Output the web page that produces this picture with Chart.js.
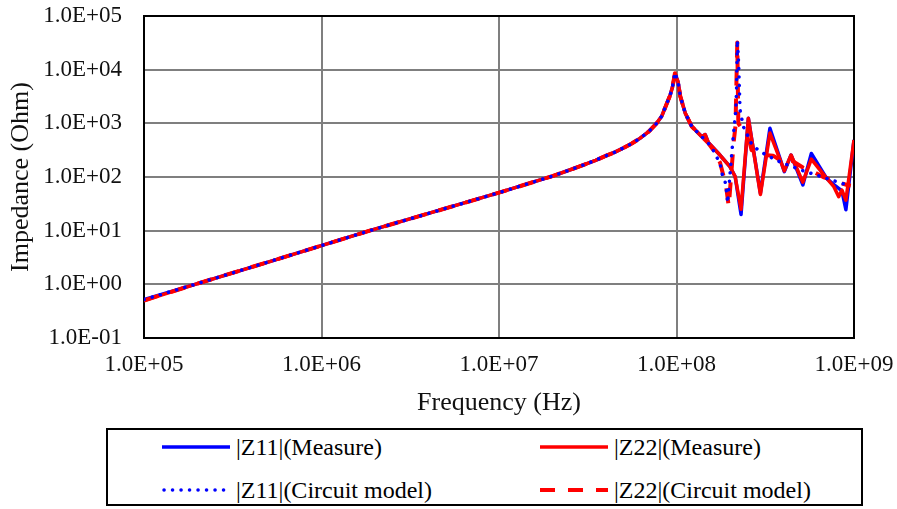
<!DOCTYPE html>
<html>
<head>
<meta charset="utf-8">
<title>Impedance</title>
<script src="https://cdn.jsdelivr.net/npm/chart.js@4.4.1/dist/chart.umd.min.js"></script>
<style>
  body { margin: 0; background: #fff; }
  #wrap { position: relative; width: 897px; height: 509px; }
  #chart { position: absolute; left: 0; top: 0; }
  #legend {
    position: absolute; left: 106px; top: 428px; width: 757px; height: 78px;
    box-sizing: border-box; border: 2px solid #000;
    font-family: 'Liberation Serif', 'Times New Roman', serif; font-size: 24px; color: #000;
  }
  .item { position: absolute; display: flex; align-items: center; height: 28px; white-space: nowrap; }
  .item svg { margin-right: 6px; }
</style>
</head>
<body>
<div id="wrap">
  <canvas id="chart" width="897" height="420"></canvas>
  <div id="legend"></div>
</div>
<script>
'use strict';

// |Z11| measured
var z11MeasFreq = [1e5, 1.94e5, 5e5, 1.87e6, 5e6, 1e7, 2e7, 2.5e7, 3e7, 3.5e7, 4.05e7, 4.5e7, 5e7, 5.6e7, 6.22e7, 7e7, 7.73e7, 8.25e7, 8.8e7, 9.2e7, 9.5e7, 9.8e7, 1.02e8, 1.05e8, 1.12e8, 1.22e8, 1.39e8, 1.45e8, 1.51e8, 1.72e8, 2.0e8, 2.14e8, 2.31e8, 2.54e8, 2.97e8, 3.36e8, 4.05e8, 4.42e8, 5.15e8, 5.75e8, 7.0e8, 7.7e8, 8.55e8, 9.0e8, 1e9];
var z11MeasZ = [0.52, 1.0, 2.6, 10, 26, 51, 104, 135, 168, 205, 252, 290, 345, 420, 525, 710, 1000, 1350, 2300, 3300, 4800, 8300, 6000, 3200, 1550, 870, 560, 620, 440, 277, 156, 102, 20, 1245, 50, 810, 126, 257, 71, 275, 95, 72, 55, 24.6, 490];

// |Z22| measured
var z22MeasFreq = [1e5, 1.94e5, 5e5, 1.87e6, 5e6, 1e7, 2e7, 2.5e7, 3e7, 3.5e7, 4.05e7, 4.5e7, 5e7, 5.6e7, 6.22e7, 7e7, 7.73e7, 8.25e7, 8.8e7, 9.2e7, 9.5e7, 9.8e7, 1.02e8, 1.05e8, 1.12e8, 1.22e8, 1.39e8, 1.45e8, 1.51e8, 1.72e8, 2.0e8, 2.14e8, 2.31e8, 2.54e8, 2.97e8, 3.36e8, 4.05e8, 4.42e8, 5.15e8, 5.75e8, 7.0e8, 7.7e8, 8.2e8, 8.55e8, 9.0e8, 1e9];
var z22MeasZ = [0.5, 1.0, 2.6, 10, 26, 51, 104, 135, 168, 205, 252, 290, 345, 420, 525, 710, 1000, 1350, 2300, 3300, 4800, 8300, 6000, 3200, 1550, 870, 560, 620, 440, 277, 156, 102, 25, 1245, 47, 660, 130, 257, 80, 215, 95, 66, 43, 57, 37, 490];

// |Z11| circuit model
var z11CktFreq = [1e5, 1.94e5, 5e5, 1.87e6, 5e6, 1e7, 2e7, 2.5e7, 3e7, 3.5e7, 4.05e7, 4.5e7, 5e7, 5.6e7, 6.22e7, 7e7, 7.73e7, 8.25e7, 8.8e7, 9.2e7, 9.5e7, 9.8e7, 1.02e8, 1.05e8, 1.12e8, 1.22e8, 1.39e8, 1.51e8, 1.61e8, 1.68e8, 1.76e8, 1.8e8, 1.88e8, 1.92e8, 1.94e8, 2.09e8, 2.16e8, 2.18e8, 2.2e8, 2.24e8, 2.28e8, 2.38e8, 2.66e8, 2.97e8, 3.47e8, 3.96e8, 4.52e8, 5.15e8, 5.88e8, 6.7e8, 7.7e8, 9.15e8, 9.6e8];
var z11CktZ = [0.52, 1.0, 2.6, 10, 26, 51, 104, 135, 168, 205, 252, 290, 345, 420, 525, 710, 1000, 1350, 2300, 3300, 4900, 8800, 6000, 3200, 1550, 870, 560, 427, 316, 238, 181, 118, 81, 50, 33, 600, 1780, 4800, 35700, 13000, 1780, 870, 400, 295, 225, 181, 155, 131, 114, 99, 85, 71, 69];

// |Z22| circuit model
var z22CktFreq = [1e5, 1.94e5, 5e5, 1.87e6, 5e6, 1e7, 2e7, 2.5e7, 3e7, 3.5e7, 4.05e7, 4.5e7, 5e7, 5.6e7, 6.22e7, 7e7, 7.73e7, 8.25e7, 8.8e7, 9.2e7, 9.5e7, 9.8e7, 1.02e8, 1.05e8, 1.12e8, 1.22e8, 1.39e8, 1.51e8, 1.61e8, 1.68e8, 1.76e8, 1.82e8, 1.9e8, 1.97e8, 2.1e8, 2.15e8, 2.2e8, 2.23e8, 2.43e8, 2.59e8, 2.65e8, 3.15e8, 3.5e8, 4.0e8, 4.5e8, 5.15e8, 5.9e8, 6.7e8, 7.7e8, 9.15e8, 9.6e8];
var z22CktZ = [0.5, 1.0, 2.6, 10, 26, 51, 104, 135, 168, 205, 252, 290, 345, 420, 525, 710, 1000, 1350, 2300, 3300, 4800, 8600, 6000, 3200, 1550, 870, 560, 427, 320, 245, 185, 120, 70, 28, 450, 900, 32000, 1000, 660, 427, 316, 257, 250, 190, 200, 150, 125, 100, 85, 71, 69];

var xTickValues = [1e5, 1e6, 1e7, 1e8, 1e9];
var yTickValues = [1e-1, 1e0, 1e1, 1e2, 1e3, 1e4, 1e5];

var FONT = "'Liberation Serif', 'Times New Roman', serif";

function toPoints(freq, z) {
  var pts = [];
  for (var i = 0; i < freq.length; i++) {
    pts.push({ x: freq[i], y: z[i] });
  }
  return pts;
}

// 1.0E+05 style labels
function sciLabel(v) {
  var e = Math.round(Math.log10(v));
  var sign = e < 0 ? '-' : '+';
  return '1.0E' + sign + String(Math.abs(e)).padStart(2, '0');
}

function series(label, freq, z, color, dash, cap, width, order) {
  return {
    label: label,
    data: toPoints(freq, z),
    showLine: true,
    borderColor: color,
    backgroundColor: color,
    borderWidth: width,
    borderDash: dash,
    borderCapStyle: cap,
    borderJoinStyle: 'round',
    pointRadius: 0,
    tension: 0,
    order: order,
  };
}

var datasets = [
  series('|Z11|(Measure)', z11MeasFreq, z11MeasZ, '#0000ff', [], 'butt', 3.5, 4),
  series('|Z22|(Measure)', z22MeasFreq, z22MeasZ, '#ff0000', [], 'butt', 3.5, 3),
  series('|Z11|(Circuit model)', z11CktFreq, z11CktZ, '#0000ff', [0.1, 8.4], 'round', 3.5, 1),
  series('|Z22|(Circuit model)', z22CktFreq, z22CktZ, '#ff0000', [15, 13], 'butt', 4, 2),
];

// black box around the plot area
var frame = {
  id: 'frame',
  beforeDatasetsDraw: function(chart) {
    var a = chart.chartArea;
    var c = chart.ctx;
    c.save();
    c.strokeStyle = '#000';
    c.lineWidth = 2;
    c.strokeRect(a.left, a.top, a.right - a.left, a.bottom - a.top);
    c.restore();
  },
};

// fixed axis boxes, no extra room for overhanging labels
function fixBox(scale, prop, size) {
  scale[prop] = size;
  scale.paddingTop = 0;
  scale.paddingBottom = 0;
  scale.paddingLeft = 0;
  scale.paddingRight = 0;
}

var tickFont = { family: FONT, size: 23 };
var titleFont = { family: FONT, size: 26 };

var ctx = document.getElementById('chart').getContext('2d');
var chart = new Chart(ctx, {
  type: 'scatter',
  data: { datasets: datasets },
  options: {
    responsive: false,
    animation: false,
    layout: { padding: { top: 16, right: 43, left: 0, bottom: 0 } },
    plugins: { legend: { display: false }, tooltip: { enabled: false } },
    scales: {
      x: {
        type: 'logarithmic',
        min: 1e5,
        max: 1e9,
        afterBuildTicks: function(scale) {
          scale.ticks = xTickValues.map(function(v) { return { value: v }; });
        },
        afterFit: function(scale) { fixBox(scale, 'height', 82); },
        grid: { color: '#7f7f7f', lineWidth: 2, drawTicks: false },
        border: { display: true, color: '#000', width: 2 },
        ticks: {
          autoSkip: false, maxRotation: 0, padding: 13, color: '#111', font: tickFont,
          callback: function(v) { return sciLabel(v); },
        },
        title: { display: true, text: 'Frequency (Hz)', color: '#111', font: titleFont, padding: { top: 0, bottom: 1 } },
      },
      y: {
        type: 'logarithmic',
        min: 1e-1,
        max: 1e5,
        afterBuildTicks: function(scale) {
          scale.ticks = yTickValues.map(function(v) { return { value: v }; });
        },
        afterFit: function(scale) { fixBox(scale, 'width', 144); },
        grid: { color: '#7f7f7f', lineWidth: 2, drawTicks: false },
        border: { display: true, color: '#000', width: 2 },
        ticks: {
          autoSkip: false, padding: 22, color: '#111', font: tickFont,
          callback: function(v) { return sciLabel(v); },
        },
        title: { display: true, text: 'Impedance (Ohm)', color: '#111', font: titleFont, padding: { top: 6, bottom: 0 } },
      },
    },
  },
  plugins: [frame],
});

// legend box: two columns, measured on top row
var legendOrder = [0, 1, 2, 3];
var legendPos = [[54, 3], [432, 3], [54, 46], [432, 46]];
var legend = document.getElementById('legend');
var svgNS = 'http://www.w3.org/2000/svg';
for (var i = 0; i < legendOrder.length; i++) {
  var ds = chart.data.datasets[legendOrder[i]];
  var item = document.createElement('div');
  item.className = 'item';
  item.style.left = legendPos[i][0] + 'px';
  item.style.top = legendPos[i][1] + 'px';

  var svg = document.createElementNS(svgNS, 'svg');
  svg.setAttribute('width', '68');
  svg.setAttribute('height', '10');
  var line = document.createElementNS(svgNS, 'line');
  line.setAttribute('x1', ds.borderCapStyle === 'round' ? '2' : '0');
  line.setAttribute('x2', '68');
  line.setAttribute('y1', '5');
  line.setAttribute('y2', '5');
  line.setAttribute('stroke', ds.borderColor);
  line.setAttribute('stroke-width', ds.borderWidth);
  line.setAttribute('stroke-linecap', ds.borderCapStyle);
  if (ds.borderDash.length) {
    line.setAttribute('stroke-dasharray', ds.borderDash.join(' '));
  }
  svg.appendChild(line);
  item.appendChild(svg);

  var text = document.createElement('span');
  text.textContent = ds.label;
  item.appendChild(text);
  legend.appendChild(item);
}
</script>
</body>
</html>
